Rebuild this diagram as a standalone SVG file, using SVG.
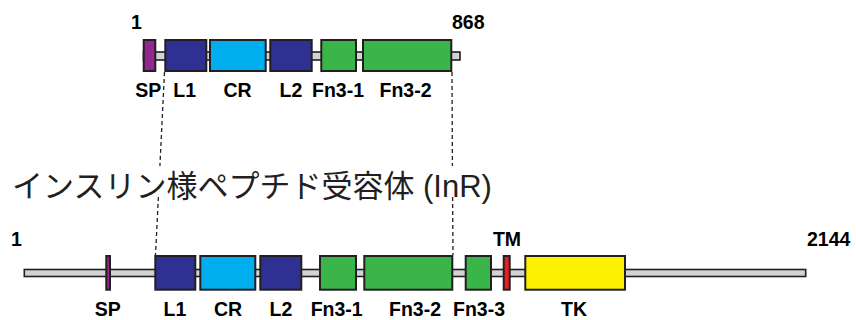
<svg xmlns="http://www.w3.org/2000/svg" width="856" height="320" viewBox="0 0 856 320">
<style>
.bar{fill:#D1D3D4;stroke:#231F20;stroke-width:1.6}
.d{stroke:#231F20;stroke-width:2}
.sp{fill:#92278F}.l{fill:#2E3192}.cr{fill:#00AEEF}.fn{fill:#39B54A}.tm{fill:#ED1C24}.tk{fill:#FFF200}
.lb{font-family:"Liberation Sans",Arial,sans-serif;font-weight:bold;font-size:19.5px;fill:#000}
.m{text-anchor:middle}
.dash{stroke:#231F20;stroke-width:1.3;stroke-dasharray:4 3;fill:none}
.title{font-family:"Liberation Sans","Noto Sans CJK JP",sans-serif;font-size:31px;fill:#231F20}
</style>
<rect width="856" height="320" fill="#fff"/>
<g id="connectors">
<line class="dash" x1="164.5" y1="72" x2="159.9" y2="166"/>
<line class="dash" x1="158.4" y1="197" x2="155.5" y2="255"/>
<line class="dash" x1="452" y1="72" x2="452.4" y2="166"/>
<line class="dash" x1="452.6" y1="197" x2="453" y2="255"/>
</g>
<g id="top-protein">
<rect class="bar" x="143.5" y="52" width="316.5" height="8"/>
<g id="top-SP"><rect class="d sp" x="143.7" y="40" width="11.6" height="31"/><text class="lb m" x="148.2" y="97">SP</text></g>
<g id="top-L1"><rect class="d l" x="165.3" y="40" width="41" height="31"/><text class="lb m" x="184.7" y="97">L1</text></g>
<g id="top-CR"><rect class="d cr" x="210" y="40" width="55.7" height="31"/><text class="lb m" x="237.5" y="97">CR</text></g>
<g id="top-L2"><rect class="d l" x="270.3" y="40" width="41.4" height="31"/><text class="lb m" x="291" y="97">L2</text></g>
<g id="top-Fn3-1"><rect class="d fn" x="321.3" y="40" width="34.7" height="31"/><text class="lb m" x="338" y="97">Fn3-1</text></g>
<g id="top-Fn3-2"><rect class="d fn" x="363" y="40" width="88.3" height="31"/><text class="lb m" x="405.5" y="97">Fn3-2</text></g>
<text class="lb" x="131" y="29">1</text>
<text class="lb" x="452" y="29">868</text>
</g>
<g id="title"><text class="title" x="12" y="197">インスリン様ペプチド受容体 (InR)</text></g>
<g id="bottom-protein">
<rect class="bar" x="24.3" y="269.5" width="781.4" height="7"/>
<g id="SP"><rect class="d sp" x="106.3" y="256" width="3.7" height="33.7"/><text class="lb m" x="107.7" y="316">SP</text></g>
<g id="L1"><rect class="d l" x="155.3" y="256" width="40" height="33.7"/><text class="lb m" x="175" y="316">L1</text></g>
<g id="CR"><rect class="d cr" x="200.3" y="256" width="55" height="33.7"/><text class="lb m" x="228" y="316">CR</text></g>
<g id="L2"><rect class="d l" x="260.3" y="256" width="41" height="33.7"/><text class="lb m" x="281" y="316">L2</text></g>
<g id="Fn3-1"><rect class="d fn" x="320" y="256" width="36" height="33.7"/><text class="lb m" x="336.7" y="316">Fn3-1</text></g>
<g id="Fn3-2"><rect class="d fn" x="364.3" y="256" width="88" height="33.7"/><text class="lb m" x="415" y="316">Fn3-2</text></g>
<g id="Fn3-3"><rect class="d fn" x="465.7" y="256" width="25.3" height="33.7"/><text class="lb m" x="479" y="316">Fn3-3</text></g>
<g id="TM"><rect class="d tm" x="503.7" y="256" width="6" height="33.7"/><text class="lb m" x="507" y="246">TM</text></g>
<g id="TK"><rect class="d tk" x="525.3" y="256" width="99.7" height="33.7"/><text class="lb m" x="574" y="316">TK</text></g>
<text class="lb" x="11" y="246">1</text>
<text class="lb" x="807" y="246">2144</text>
</g>
</svg>
